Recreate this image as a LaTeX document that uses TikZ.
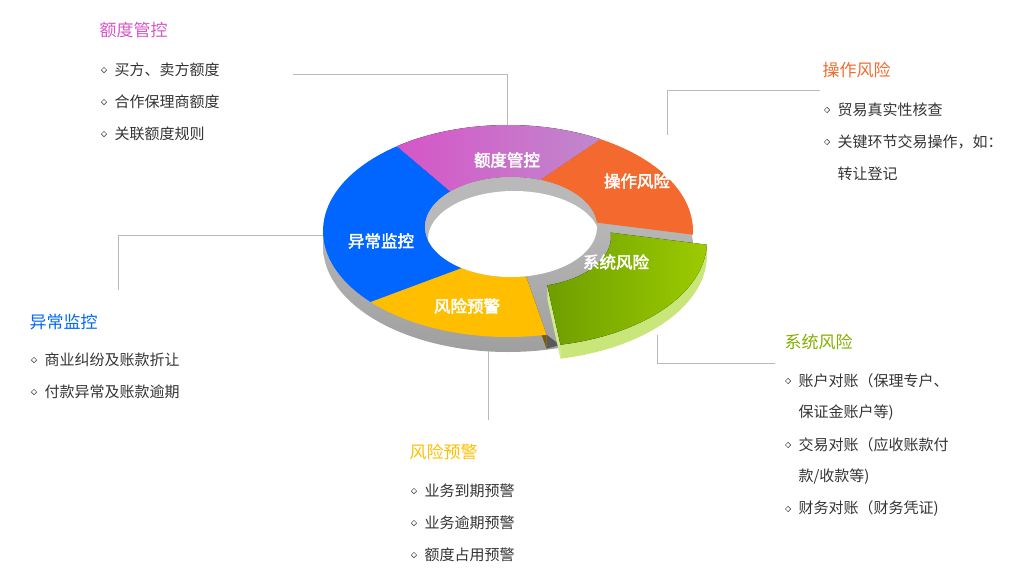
\documentclass[tikz,border=0pt]{standalone}
\usepackage{fontspec}
\setmainfont{Noto Sans CJK SC}
\newfontfamily\cjkb{Noto Sans CJK SC}[FakeBold=2.5]
\usetikzlibrary{shapes.geometric,calc}
\definecolor{cpink}{HTML}{D655C8}
\definecolor{cpink2}{HTML}{C088CC}
\definecolor{corange}{HTML}{F46A2E}
\definecolor{cgreen}{HTML}{6E9E00}
\definecolor{cgreen2}{HTML}{9CCB00}
\definecolor{clgreen}{HTML}{C8E67A}
\definecolor{cyellow}{HTML}{FFBE00}
\definecolor{cblue}{HTML}{0066FF}
\definecolor{cbrown}{HTML}{7A5A00}
\definecolor{ctxt}{HTML}{333333}
\newcommand\ringseg[5]{\fill[#5] plot[domain=#1:#2,samples=40] ({508+185*cos(\x)},{231-106*sin(\x)}) -- plot[domain=#4:#3,samples=40] ({511+86*cos(\x)},{227-50*sin(\x)}) -- cycle;}
\tikzset{
  lead/.style={draw=gray!55,line width=0.6pt},
  seglab/.style={text=white,font=\cjkb\fontsize{16.5}{16.5}\selectfont},
  ttl/.style={anchor=west,font=\fontsize{17}{17}\selectfont},
  itm/.style={anchor=west,text=ctxt,font=\fontsize{15}{15}\selectfont},
  bul/.style={diamond,draw=ctxt,line width=0.5pt,inner sep=0pt,minimum size=5.5pt}
}
\begin{document}
\begin{tikzpicture}[x=1pt,y=-1pt]
\useasboundingbox (0,0) rectangle (1023,581);
% leader lines
\coordinate (l1a) at (293,74); \coordinate (l1b) at (507,130);
\draw[lead] (l1a) -| (l1b);
\coordinate (l2a) at (820,90); \coordinate (l2b) at (667,135);
\draw[lead] (l2a) -| (l2b);
\coordinate (l3a) at (118,290); \coordinate (l3b) at (335,235);
\draw[lead] (l3a) |- (l3b);
\coordinate (l4a) at (488,420); \coordinate (l4b) at (488,340);
\draw[lead] (l4a) -- (l4b);
\coordinate (l5a) at (775,363); \coordinate (l5b) at (657,335);
\draw[lead] (l5a) -| (l5b);
% outer side
\shade[top color=gray!45,bottom color=gray!75] (508,246) ellipse [x radius=185,y radius=106];
% brown wall
\fill[cbrown] (546.5,334.7) -- (526,276) -- (526,290) -- (546.5,348.7) -- cycle;
\fill[gray!70!black] (546.5,334.7) -- (546.5,348.7) -- (560,345) -- cycle;
% top segments
\ringseg{60}{127}{70}{135}{left color=cpink,right color=cpink2}
\ringseg{-2}{60}{5}{70}{corange}
\ringseg{-138}{-78}{-125}{-80}{cyellow}
\ringseg{127}{222}{135}{235}{cblue}
% hole
\fill[gray!55] (511,227) ellipse [x radius=86,y radius=50];
\begin{scope}
\clip (511,227) ellipse [x radius=86,y radius=50];
\fill[white] (514,239) ellipse [x radius=86,y radius=48];
\end{scope}
% exploded green segment
\begin{scope}[shift={(14,10)}]
\fill[clgreen] plot[domain=-78:-2,samples=40] ({508+185*cos(\x)},{231-106*sin(\x)}) -- plot[domain=-2:-78,samples=40] ({508+185*cos(\x)},{245-106*sin(\x)}) -- cycle;
\fill[clgreen!85!white] (546.5,334.7) -- (533.3,275.3) -- (533.3,289.3) -- (546.5,348.7) -- cycle;
\ringseg{-78}{-2}{-75}{5}{left color=cgreen,right color=cgreen2}
\end{scope}
% segment labels
\node[seglab] (s1) at (507,160) {额度管控};
\node[seglab] (s2) at (637,181) {操作风险};
\node[seglab] (s3) at (381,241) {异常监控};
\node[seglab] (s4) at (616,262) {系统风险};
\node[seglab] (s5) at (467,306) {风险预警};
% text blocks
\node[ttl,text=cpink] (t1) at (96,30) {额度管控};
\node[bul] (b11) at (104,70) {}; \node[itm] (i11) at (111,70) {买方、卖方额度};
\node[bul] (b12) at (104,102) {}; \node[itm] (i12) at (111,102) {合作保理商额度};
\node[bul] (b13) at (104,134) {}; \node[itm] (i13) at (111,134) {关联额度规则};
\node[ttl,text=corange] (t2) at (819,70) {操作风险};
\node[bul] (b21) at (827,110) {}; \node[itm] (i21) at (834,110) {贸易真实性核查};
\node[bul] (b22) at (827,142) {}; \node[itm] (i22) at (834,142) {关键环节交易操作，如：};
\node[itm] (i23) at (834,174) {转让登记};
\node[ttl,text=cblue] (t3) at (26,322) {异常监控};
\node[bul] (b31) at (34,360) {}; \node[itm] (i31) at (41,360) {商业纠纷及账款折让};
\node[bul] (b32) at (34,392) {}; \node[itm] (i32) at (41,392) {付款异常及账款逾期};
\node[ttl,text=cyellow] (t4) at (406,452) {风险预警};
\node[bul] (b41) at (414,491) {}; \node[itm] (i41) at (421,491) {业务到期预警};
\node[bul] (b42) at (414,523) {}; \node[itm] (i42) at (421,523) {业务逾期预警};
\node[bul] (b43) at (414,555) {}; \node[itm] (i43) at (421,555) {额度占用预警};
\node[ttl,text=cgreen2!85!black] (t5) at (781,342) {系统风险};
\node[bul] (b51) at (788,381) {}; \node[itm] (i51) at (795,381) {账户对账（保理专户、};
\node[itm] (i52) at (795,413) {保证金账户等)};
\node[bul] (b53) at (788,445) {}; \node[itm] (i53) at (795,445) {交易对账（应收账款付};
\node[itm] (i54) at (795,477) {款/收款等)};
\node[bul] (b55) at (788,509) {}; \node[itm] (i55) at (795,509) {财务对账（财务凭证)};
\end{tikzpicture}
\end{document}
